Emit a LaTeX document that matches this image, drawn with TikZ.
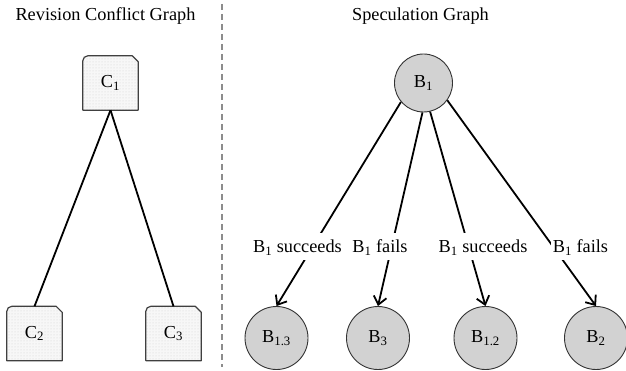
\documentclass[tikz,border=0pt]{standalone}
\usepackage{fontspec}
\setmainfont{Liberation Serif}
\usetikzlibrary{arrows.meta,patterns,backgrounds,calc}

% Outline of a revision card: rounded top-left corner, clipped top-right corner
\newcommand\revcard[1]{%
  \path[preaction={fill=gray!6}, pattern=dots, pattern color=gray!35,
        draw=black!75, line width=1.2pt, line join=round]
    (#1.south west) -- ($(#1.north west)+(0,5)$)
    arc[start angle=180, end angle=90, radius=5pt]
    -- ($(#1.north east)+(-6,0)$) -- ($(#1.north east)+(0,6)$)
    -- (#1.south east) -- cycle;}

\tikzset{
  txt/.style={font=\fontsize{18.3}{21}\selectfont},
  card/.style={txt, minimum width=55pt, minimum height=54pt, inner sep=0pt},
  spec/.style={txt, circle, draw=black!80, line width=0.9pt, fill=gray!35, inner sep=0pt},
  root/.style={spec, minimum size=58pt},
  leaf/.style={spec, minimum size=63pt},
  lbl/.style={txt, fill=white, anchor=base, inner xsep=2pt, inner ysep=0pt,
              text height=20pt, text depth=7pt},
  ttl/.style={txt, anchor=base, inner sep=0pt},
  link/.style={line width=1.8pt},
  arr/.style={line width=1.8pt, -{Straight Barb[length=8pt, width=13pt]}},
  divider/.style={black!45, line width=1.3pt, dash pattern=on 6pt off 4pt}
}

\begin{document}
\begin{tikzpicture}[x=1pt, y=-1pt]
  \useasboundingbox (0,0) rectangle (626,371);

  % titles and divider
  \node[ttl] (t1) at (105.5,20.5) {Revision Conflict Graph};
  \node[ttl] (t2) at (420.5,20.5) {Speculation Graph};
  \coordinate (d1) at (222,4);
  \coordinate (d2) at (222,367);
  \draw[divider] (d1) -- (d2);

  % revision conflict graph
  \node[card] (C1) at (110.5,83) {C\textsubscript{1}};
  \node[card] (C2) at (34.5,333.5) {C\textsubscript{2}};
  \node[card] (C3) at (173.5,333.5) {C\textsubscript{3}};
  \begin{scope}[on background layer]
    \revcard{C1}\revcard{C2}\revcard{C3}
  \end{scope}
  \draw[link] (C1.south) -- (C2.north);
  \draw[link] (C1.south) -- (C3.north);

  % speculation graph
  \node[root] (B1) at (423.5,83) {B\textsubscript{1}};
  \node[leaf] (B13) at (276.5,338) {B\textsubscript{1.3}};
  \node[leaf] (B3) at (378,338) {B\textsubscript{3}};
  \node[leaf] (B12) at (485.5,338) {B\textsubscript{1.2}};
  \node[leaf] (B2) at (596,338) {B\textsubscript{2}};

  \draw[arr] (B1.220) -- (B13.north);
  \draw[arr] (B1.268) -- (B3.north);
  \draw[arr] (B1.283.5) -- (B12.north);
  \draw[arr] (B1.324) -- (B2.north);

  \node[lbl] (L1) at (297.5,253) {B\textsubscript{1} succeeds};
  \node[lbl] (L2) at (380,253) {B\textsubscript{1} fails};
  \node[lbl] (L3) at (483,253) {B\textsubscript{1} succeeds};
  \node[lbl] (L4) at (580.5,253) {B\textsubscript{1} fails};
\end{tikzpicture}
\end{document}
